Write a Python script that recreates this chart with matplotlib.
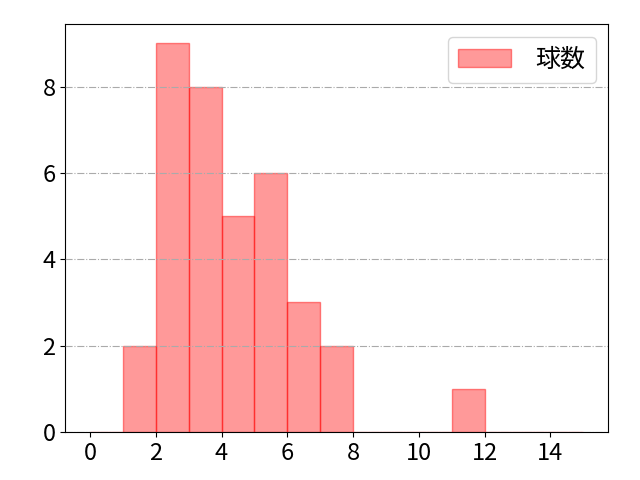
import matplotlib
matplotlib.use("Agg")
import matplotlib.pyplot as plt
import numpy as np

plt.rcParams['font.family'] = ['Noto Sans CJK JP', 'DejaVu Sans']

bin_edges = list(range(0, 16))
counts = [0, 2, 9, 8, 5, 6, 3, 2, 0, 0, 0, 1, 0, 0, 0]
label = "球数"

fig, ax = plt.subplots(figsize=(6.4, 4.8), dpi=100)
fig.subplots_adjust(left=0.102, right=0.95, top=0.95, bottom=0.1)
ax.hist(bin_edges[:-1], bins=bin_edges, weights=counts,
        facecolor=(1, 0, 0, 0.4), edgecolor=(1, 0, 0, 0.45), linewidth=1, label=label)
ax.grid(axis='y', linestyle='-.', color='#aaaaaa', linewidth=0.8)
ax.set_axisbelow(False)
ax.tick_params(labelsize=17)
ax.set_xticks([0, 2, 4, 6, 8, 10, 12, 14])
ax.legend(fontsize=18, loc='upper right', handlelength=2.1, handleheight=0.75,
          handletextpad=1.0)
fig.savefig("out.png")
